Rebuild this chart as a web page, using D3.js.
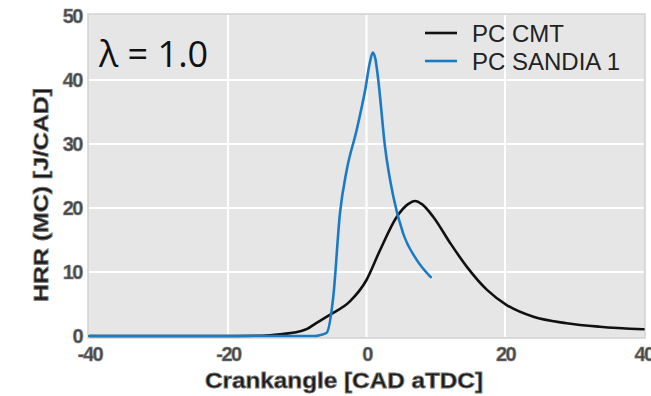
<!DOCTYPE html>
<html>
<head>
<meta charset="utf-8">
<script src="https://cdn.jsdelivr.net/npm/d3@7"></script>
<style>
  html, body { margin: 0; padding: 0; background: #fff; }
  svg { display: block; }
</style>
</head>
<body>
<svg id="chart" width="651" height="396"></svg>
<script>
// Heat release rate vs crank angle, two combustion models
const cmtAngle = [-40, -30, -20, -15, -12.5, -11, -9.6, -8.5, -7.7, -5.3, -2.4, 0, 1.95, 4.36, 6.0, 7.0, 8.0, 9.65, 12.1, 14.5, 17.4, 20.3, 24.1, 28.9, 33.7, 40];
const cmtHrr   = [0, 0, 0, 0.05, 0.25, 0.45, 0.75, 1.15, 1.7, 3.3, 5.4, 8.75, 13.4, 18.6, 20.6, 21.1, 20.6, 18.6, 14.5, 10.8, 7.2, 4.8, 3.0, 2.0, 1.45, 1.05];

const sandiaAngle = [-40, -30, -20, -10, -7.5, -6.7, -5.75, -4.8, -3.83, -2.86, -1.42, -0.2, 0.5, 0.9, 1.3, 1.7, 2.67, 3.87, 5.3, 7.25, 9.28];
const sandiaHrr   = [0, 0, 0, 0, 0, 0.15, 0.5, 6.1, 19.2, 25.9, 32.2, 38.4, 42.8, 44.3, 43.2, 40, 29.6, 21.8, 16, 11.9, 9.2];

const xTicks = [-40, -20, 0, 20, 40];
const yTicks = [0, 10, 20, 30, 40, 50];

const seriesNames = ["PC CMT", "PC SANDIA 1"];
const seriesColors = ["#111111", "#1a7bc4"];

const svg = d3.select("#chart");
const plot = { left: 88, right: 645, top: 14, bottom: 338 };

const x = d3.scaleLinear().domain([-40, 40]).range([89.5, 643.5]);
const y = d3.scaleLinear().domain([0, 50]).range([336, 16]);

// panel background
svg.append("rect")
  .attr("x", plot.left).attr("y", plot.top)
  .attr("width", plot.right - plot.left).attr("height", plot.bottom - plot.top)
  .attr("fill", "#e6e6e6")
  .attr("stroke", "#d2d2d2").attr("stroke-width", 1.5);

// grid
const grid = svg.append("g").attr("stroke", "#ffffff").attr("stroke-width", 2);
grid.selectAll("line.v").data(xTicks.slice(1, -1)).join("line")
  .attr("x1", d => x(d)).attr("x2", d => x(d))
  .attr("y1", plot.top + 1).attr("y2", plot.bottom - 1);
grid.selectAll("line.h").data(yTicks.slice(1, -1)).join("line")
  .attr("y1", d => y(d)).attr("y2", d => y(d))
  .attr("x1", plot.left + 1).attr("x2", plot.right - 1);

// axes (labels only); plain hyphen for negative numbers
const fmt = d => String(d);
const tickFont = g => g.selectAll("text")
  .attr("font-family", "Liberation Sans, Arial, sans-serif")
  .attr("font-weight", "bold").attr("font-size", 20)
  .attr("fill", "#474747")
  .attr("stroke", "#8a8a8a").attr("stroke-width", 0.6);

const xAxis = svg.append("g")
  .attr("transform", `translate(0,${plot.bottom})`)
  .call(d3.axisBottom(x).tickValues(xTicks).tickSize(0).tickPadding(9).tickFormat(fmt));
xAxis.select(".domain").remove();
xAxis.call(tickFont);
xAxis.selectAll("text").attr("dy", "0.72em").attr("letter-spacing", -1.5);

const yAxis = svg.append("g")
  .attr("transform", `translate(${plot.left},0)`)
  .call(d3.axisLeft(y).tickValues(yTicks).tickSize(0).tickPadding(6).tickFormat(fmt));
yAxis.select(".domain").remove();
yAxis.call(tickFont);
yAxis.selectAll("text").attr("letter-spacing", -1.5);

// axis titles
svg.append("text")
  .attr("x", 344).attr("y", 388)
  .attr("text-anchor", "middle")
  .attr("font-family", "Liberation Sans, Arial, sans-serif")
  .attr("font-weight", "bold").attr("font-size", 22)
  .attr("textLength", 278).attr("lengthAdjust", "spacingAndGlyphs")
  .attr("fill", "#1a1a1a").attr("stroke", "#777").attr("stroke-width", 0.8)
  .text("Crankangle [CAD aTDC]");

svg.append("text")
  .attr("transform", "translate(48,195) rotate(-90)")
  .attr("text-anchor", "middle")
  .attr("font-family", "Liberation Sans, Arial, sans-serif")
  .attr("font-weight", "bold").attr("font-size", 21)
  .attr("textLength", 214).attr("lengthAdjust", "spacingAndGlyphs")
  .attr("fill", "#1a1a1a").attr("stroke", "#777").attr("stroke-width", 0.8)
  .text("HRR (MC) [J/CAD]");

// curves
const line = d3.line().x(d => x(d[0])).y(d => y(d[1])).curve(d3.curveMonotoneX);
const series = [
  d3.zip(cmtAngle, cmtHrr),
  d3.zip(sandiaAngle, sandiaHrr)
];
svg.append("g").selectAll("path").data(series).join("path")
  .attr("d", line)
  .attr("fill", "none")
  .attr("stroke", (d, i) => seriesColors[i])
  .attr("stroke-width", 2.6)
  .attr("stroke-linejoin", "round").attr("stroke-linecap", "round");

// legend
const legend = svg.append("g");
const legendY = [33, 61];
seriesNames.forEach((name, i) => {
  legend.append("line")
    .attr("x1", 425).attr("x2", 457)
    .attr("y1", legendY[i]).attr("y2", legendY[i])
    .attr("stroke", seriesColors[i]).attr("stroke-width", 2.6);
  legend.append("text")
    .attr("x", 472).attr("y", legendY[i] + 9)
    .attr("font-family", "Liberation Sans, Arial, sans-serif")
    .attr("font-size", 24).attr("fill", "#222")
    .text(name);
});

// annotation
svg.append("text")
  .attr("x", 99).attr("y", 67)
  .attr("font-family", "Open Sans, sans-serif")
  .attr("font-size", 36).attr("fill", "#111")
  .text("λ = 1.0");
</script>
</body>
</html>
